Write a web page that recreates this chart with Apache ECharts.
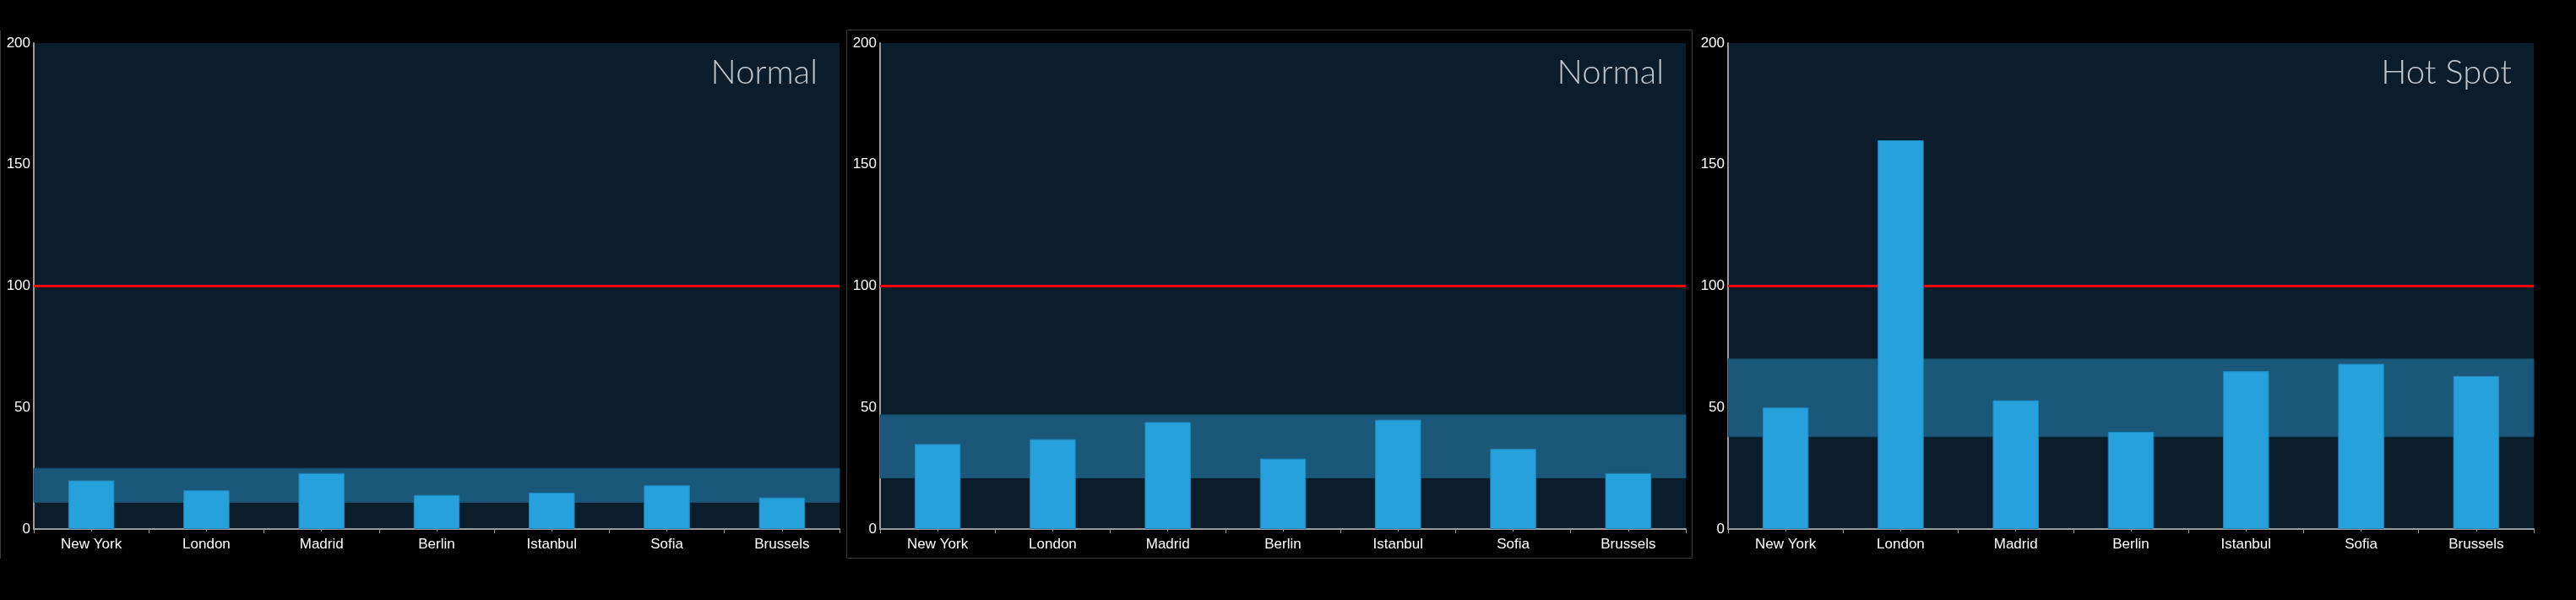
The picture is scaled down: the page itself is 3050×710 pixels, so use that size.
<!DOCTYPE html>
<html>
<head>
<meta charset="utf-8">
<script src="https://cdn.jsdelivr.net/npm/echarts@6/dist/echarts.min.js"></script>
<style>
html,body{margin:0;padding:0;background:#000;}
#c{width:3050px;height:710px;}
</style>
</head>
<body>
<div id="c"></div>
<script>
const cities = ['New York','London','Madrid','Berlin','Istanbul','Sofia','Brussels'];
const panel1Values = [20,16,23,14,15,18,13];
const panel2Values = [35,37,44,29,45,33,23];
const panel3Values = [50,160,53,40,65,68,63];
const panelTitles = ['Normal','Normal','Hot Spot'];
const bandLow = [11,21,38];
const bandHigh = [25,47,70];
const threshold = 100;
const yMin = 0, yMax = 200, yStep = 50;

const panelValues = [panel1Values, panel2Values, panel3Values];
const gridLeft = [40, 1042, 2046];
const gridW = 954, gridTop = 51, gridH = 575;
const axisColor = '#9a9a9a';
const labelFont = "'Liberation Sans', Arial, sans-serif";

const chart = echarts.init(document.getElementById('c'));
const grids = [], xAxes = [], yAxes = [], series = [], titles = [];
for (let k = 0; k < 3; k++) {
  grids.push({left: gridLeft[k], top: gridTop, width: gridW, height: gridH,
    show: true, backgroundColor: '#0b1c2a', borderWidth: 0});
  xAxes.push({type: 'category', gridIndex: k, data: cities, position: 'bottom',
    axisLine: {show: true, lineStyle: {color: axisColor, width: 2}},
    axisTick: {show: true, alignWithLabel: false, length: 5, lineStyle: {color: axisColor, width: 1}},
    axisLabel: {color: '#ffffff', fontSize: 17, fontFamily: labelFont, margin: 10, interval: 0},
    splitLine: {show: false}});
  xAxes.push({type: 'category', gridIndex: k, data: cities, position: 'bottom',
    axisLine: {show: false},
    axisTick: {show: true, alignWithLabel: true, length: 3, lineStyle: {color: axisColor, width: 1}},
    axisLabel: {show: false}, splitLine: {show: false}});
  yAxes.push({type: 'value', gridIndex: k, min: yMin, max: yMax, interval: yStep,
    axisLine: {show: true, lineStyle: {color: axisColor, width: 2}},
    axisTick: {show: false},
    axisLabel: {color: '#ffffff', fontSize: 17, fontFamily: labelFont, margin: 4},
    splitLine: {show: false}});
  series.push({type: 'line', xAxisIndex: 2*k, yAxisIndex: k, data: [], z: 1,
    silent: true, symbol: 'none',
    markArea: {silent: true, z: 1, itemStyle: {color: '#1a5778', borderColor: '#174c6b', borderWidth: 1},
      data: [[{yAxis: bandLow[k]}, {yAxis: bandHigh[k]}]]},
    markLine: {silent: true, z: 2, symbol: ['none','none'], label: {show: false},
      lineStyle: {color: '#ff0000', width: 3, type: 'solid'},
      data: [{yAxis: threshold}]}});
  series.push({type: 'bar', xAxisIndex: 2*k, yAxisIndex: k, data: panelValues[k], z: 4,
    barWidth: '40%',
    itemStyle: {color: '#26a1db', borderColor: '#1f86bb', borderWidth: 1}});
  const rightEdge = gridLeft[k] + gridW - 26;
  titles.push({text: panelTitles[k], right: 3050 - rightEdge, top: 66, padding: 0,
    textStyle: {color: '#c3c8cc', fontSize: 40, fontWeight: 300, fontFamily: "Lato, 'Open Sans', sans-serif"}});
}

chart.setOption({
  backgroundColor: '#000000',
  animation: false,
  title: titles,
  grid: grids,
  xAxis: xAxes,
  yAxis: yAxes,
  series: series,
  graphic: [
    {type: 'line', shape: {x1: 0.5, y1: 36, x2: 0.5, y2: 661}, style: {stroke: '#3a3a3a', lineWidth: 1}, silent: true},
    {type: 'rect', shape: {x: 1002.5, y: 35.5, width: 1001, height: 625}, style: {fill: 'none', stroke: '#3a3a3a', lineWidth: 1}, silent: true}
  ]
});
</script>
</body>
</html>
